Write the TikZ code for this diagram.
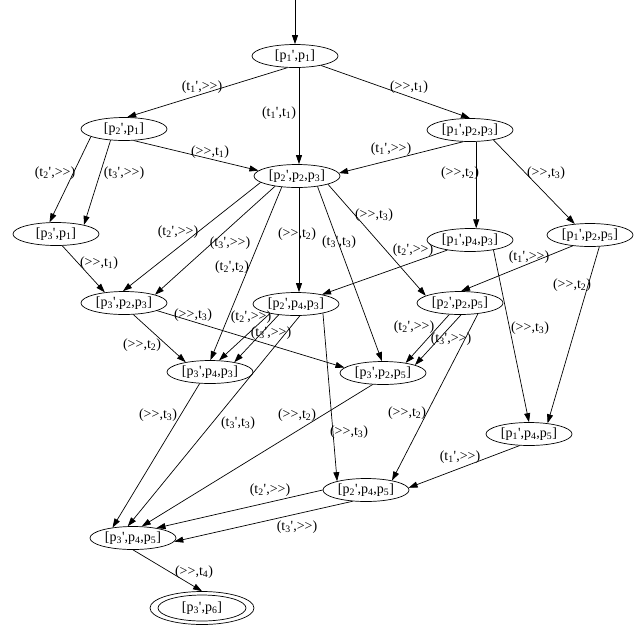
\documentclass[tikz,border=0pt]{standalone}
\usepackage{fontspec}
\setmainfont{Liberation Serif}[Ligatures=TeXOff]
\usetikzlibrary{arrows.meta,shapes.geometric}
\newcommand\pp[1]{p\textsubscript{#1}}
\newcommand\tr[1]{t\textsubscript{#1}}
\tikzset{
  st/.style={draw, ellipse, minimum width=86pt, minimum height=23pt, inner sep=0pt, line width=0.7pt, font=\fontsize{14}{16}\selectfont},
  lbl/.style={inner sep=0pt, font=\fontsize{14}{16}\selectfont},
  e/.style={-{Triangle[length=9pt,width=6pt]}, line width=0.7pt}
}
\begin{document}
\begin{tikzpicture}[x=1pt,y=-1pt]
\useasboundingbox (0,0) rectangle (639,625);
% states
\coordinate (s) at (295,0);
\node[st] (A) at (295,56) {[\pp1',\pp1]};
\node[st] (B) at (124,129) {[\pp2',\pp1]};
\node[st] (C) at (297,176) {[\pp2',\pp2,\pp3]};
\node[st] (D) at (470,130) {[\pp1',\pp2,\pp3]};
\node[st] (E) at (56,234) {[\pp3',\pp1]};
\node[st] (F) at (470,240) {[\pp1',\pp4,\pp3]};
\node[st] (G) at (590,235) {[\pp1',\pp2,\pp5]};
\node[st] (H) at (124,303) {[\pp3',\pp2,\pp3]};
\node[st] (I) at (296,304) {[\pp2',\pp4,\pp3]};
\node[st] (J) at (460,303) {[\pp2',\pp2,\pp5]};
\node[st] (K) at (210,372) {[\pp3',\pp4,\pp3]};
\node[st] (L) at (383,373) {[\pp3',\pp2,\pp5]};
\node[st] (M) at (529,434) {[\pp1',\pp4,\pp5]};
\node[st] (N) at (366,490) {[\pp2',\pp4,\pp5]};
\node[st] (O) at (133,538) {[\pp3',\pp4,\pp5]};
\node[st, minimum width=104pt, minimum height=33pt] (P) at (202,608) {[\pp3',\pp6]};
\draw[line width=0.7pt] (P.center) ellipse [x radius=44, y radius=13];
% edges
\draw[e] (s) -- (A.north);
\draw[e] (A.237) -- (B.75);
\draw[e] ([xshift=4pt]A.south) -- ([xshift=2pt]C.north);
\draw[e] (A.340) -- (D.north);
\draw[e] (B.193) -- (E.119);
\draw[e] (B.220) -- (E.18);
\draw[e] (B.310) -- (C.172);
\draw[e] (D.240) -- (C.4);
\draw[e] (D.298) -- (F.62);
\draw[e] (D.337) -- (G.144);
\draw[e] (C.190) -- (H.95);
\draw[e] (C.205) -- (H.15);
\draw[e] (C.216) -- (K.88);
\draw[e] ([xshift=2pt]C.south) -- ([xshift=3pt]I.north);
\draw[e] (C.345) -- (J.168);
\draw[e] (C.333) -- (L.95);
\draw[e] (E.298) -- (H.151);
\draw[e] (F.204) -- (I.20);
\draw[e] (G.212) -- (J.85);
\draw[e] (G.309) -- (M.30);
\draw[e] (F.337) -- (M.90);
\draw[e] (H.309) -- (K.158);
\draw[e] (H.347) -- (L.172);
\draw[e] (I.200) -- (K.52);
\draw[e] (I.212) -- (K.22);
\draw[e] (I.288) -- (O.114);
\draw[e] (I.341) -- (N.163);
\draw[e] (J.227) -- (L.24);
\draw[e] (J.275) -- (L.14);
\draw[e] (J.329) -- (N.20);
\draw[e] (K.228) -- (O.153);
\draw[e] (L.228) -- (O.53);
\draw[e] (M.231) -- (N.3);
\draw[e] (N.180) -- (O.23);
\draw[e] (N.220) -- (O.355);
\draw[e] (O.south) -- (P.north);
% labels
\node[lbl] (lAB) at (202,87) {(\tr1',>>)};
\node[lbl] (lAC) at (279,113) {(\tr1',\tr1)};
\node[lbl] (lAD) at (409,87) {(>>,\tr1)};
\node[lbl] (lBE1) at (55,173) {(\tr2',>>)};
\node[lbl] (lBE2) at (124,173) {(\tr3',>>)};
\node[lbl] (lBC) at (210,152) {(>>,\tr1)};
\node[lbl] (lDC) at (391,149) {(\tr1',>>)};
\node[lbl] (lDF) at (460,173) {(>>,\tr2)};
\node[lbl] (lDG) at (546,173) {(>>,\tr3)};
\node[lbl] (lCH1) at (178,232) {(\tr2',>>)};
\node[lbl] (lCH2) at (230,243) {(\tr3',>>)};
\node[lbl] (lCK) at (232,267) {(\tr2',\tr2)};
\node[lbl] (lCI) at (297,234) {(>>,\tr2)};
\node[lbl] (lCJ) at (374,215) {(>>,\tr3)};
\node[lbl] (lCL) at (339,242) {(\tr3',\tr3)};
\node[lbl] (lEH) at (99,263) {(>>,\tr1)};
\node[lbl] (lFI) at (413,250) {(\tr2',>>)};
\node[lbl] (lGJ) at (529,257) {(\tr1',>>)};
\node[lbl] (lGM) at (572,285) {(>>,\tr2)};
\node[lbl] (lFM) at (530,328) {(>>,\tr3)};
\node[lbl] (lHK) at (142,345) {(>>,\tr2)};
\node[lbl] (lHL) at (193,315) {(>>,\tr3)};
\node[lbl] (lIK1) at (251,317) {(\tr2',>>)};
\node[lbl] (lIK2) at (271,333) {(\tr3',>>)};
\node[lbl] (lIO) at (238,423) {(\tr3',\tr3)};
\node[lbl] (lIN) at (349,432) {(>>,\tr3)};
\node[lbl] (lJL1) at (414,327) {(\tr2',>>)};
\node[lbl] (lJL2) at (451,339) {(\tr3',>>)};
\node[lbl] (lJN) at (407,413) {(>>,\tr2)};
\node[lbl] (lKO) at (158,415) {(>>,\tr3)};
\node[lbl] (lLO) at (297,415) {(>>,\tr2)};
\node[lbl] (lMN) at (460,457) {(\tr1',>>)};
\node[lbl] (lNO1) at (270,490) {(\tr2',>>)};
\node[lbl] (lNO2) at (297,527) {(\tr3',>>)};
\node[lbl] (lOP) at (194,572) {(>>,\tr4)};
\end{tikzpicture}
\end{document}
